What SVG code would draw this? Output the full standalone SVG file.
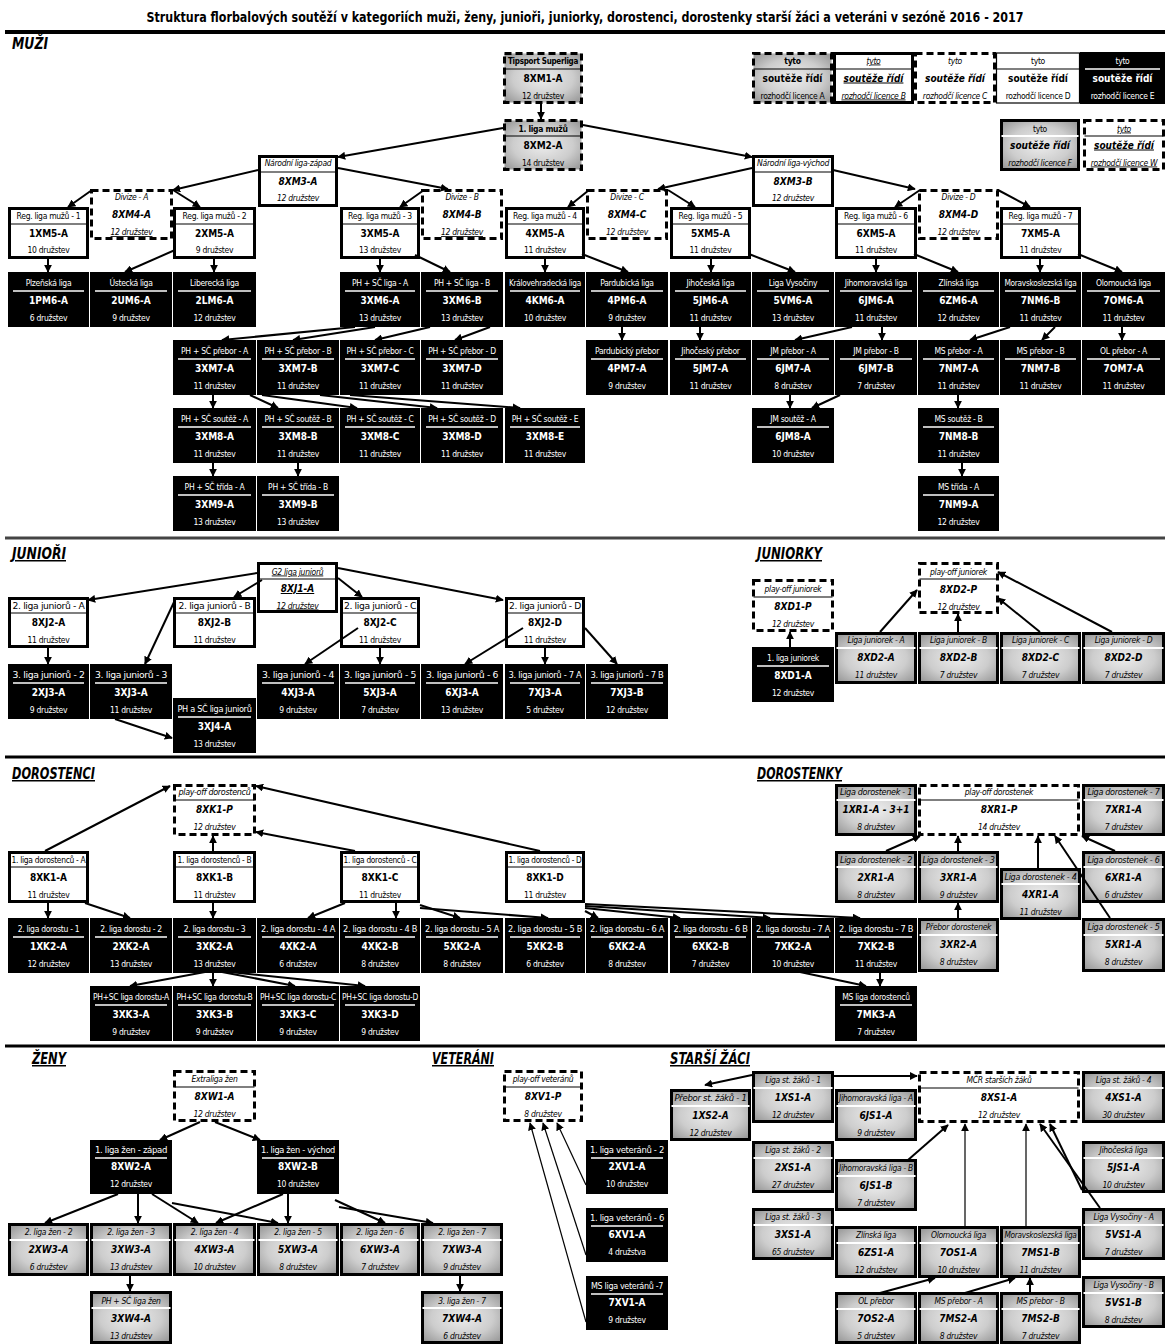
<svg xmlns="http://www.w3.org/2000/svg" width="1170" height="1344" viewBox="0 0 1170 1344">
<defs>
<radialGradient id="gg" cx="50%" cy="50%" r="65%"><stop offset="0" stop-color="#ededed"/><stop offset="0.6" stop-color="#cdcdcd"/><stop offset="1" stop-color="#9c9c9c"/></radialGradient>
<marker id="ah" viewBox="0 0 10 10" refX="9" refY="5" markerWidth="8" markerHeight="8" markerUnits="userSpaceOnUse" orient="auto"><path d="M0,0 L10,5 L0,10 z" fill="#000"/></marker>
<style>
text{font-family:"Liberation Sans Narrow","DejaVu Sans Condensed","Liberation Sans",Arial,sans-serif;text-anchor:middle;font-size:8.5px;letter-spacing:-0.3px;fill:#000}
.c{font-weight:bold;font-size:10px;letter-spacing:0}
.w{fill:#fff}
.i{font-style:italic}
.u{text-decoration:underline}
.E{fill:#000}
.D{fill:#fff;stroke:#000;stroke-width:3}
.Dt{fill:#fff;stroke:#000;stroke-width:1.2}
.C{fill:#fff;stroke:#000;stroke-width:3;stroke-dasharray:7 4}
.A{fill:url(#gg);stroke:#000;stroke-width:3;stroke-dasharray:7 4}
.F{fill:url(#gg);stroke:#000;stroke-width:3}
.sw{stroke:#fff;stroke-width:1.5}
.sb{stroke:#000;stroke-width:1.2}
.sf{stroke:#fff;stroke-width:2}
.k{stroke:#000;stroke-width:2;fill:none;marker-end:url(#ah)}
.kt{stroke:#000;stroke-width:1.2;fill:none;marker-end:url(#ah)}
.sec{font-size:15px;font-weight:bold;font-style:italic;text-anchor:start;letter-spacing:0}
.rule{stroke:#000;stroke-width:3}
</style>
</defs>
<rect width="1170" height="1344" fill="#fff"/>
<text x="585" y="22" style="font-size:14px;font-weight:bold;letter-spacing:0" textLength="877" lengthAdjust="spacingAndGlyphs">Struktura florbalových soutěží v kategoriích muži, ženy, junioři, juniorky, dorostenci, dorostenky starší žáci a veteráni v sezóně 2016 - 2017</text>
<line x1="5" y1="32" x2="1165" y2="32" stroke="#000" stroke-width="4"/>
<line class="rule" x1="5" y1="538" x2="1165" y2="538" style="stroke:#444"/>
<line class="rule" x1="5" y1="757" x2="1165" y2="757"/>
<line class="rule" x1="5" y1="1046" x2="1165" y2="1046"/>
<g id="labels">
<text class="sec" x="12" y="49" textLength="36" lengthAdjust="spacingAndGlyphs">MUŽI</text>
<text class="sec u" x="12" y="559" textLength="54" lengthAdjust="spacingAndGlyphs">JUNIOŘI</text>
<text class="sec u" x="757" y="559" textLength="65" lengthAdjust="spacingAndGlyphs">JUNIORKY</text>
<text class="sec u" x="12" y="779" textLength="83" lengthAdjust="spacingAndGlyphs">DOROSTENCI</text>
<text class="sec u" x="757" y="779" textLength="85" lengthAdjust="spacingAndGlyphs">DOROSTENKY</text>
<text class="sec u" x="32" y="1064" textLength="34" lengthAdjust="spacingAndGlyphs">ŽENY</text>
<text class="sec u" x="432" y="1064" textLength="62" lengthAdjust="spacingAndGlyphs">VETERÁNI</text>
<text class="sec u" x="670" y="1064" textLength="80" lengthAdjust="spacingAndGlyphs">STARŠÍ ŽÁCI</text>
</g>

<!-- LEGEND -->
<g id="legA"><rect class="A" x="753.5" y="53.5" width="78" height="49"/><line class="sb" x1="753.5" x2="831.5" y1="69" y2="69"/><text x="792.5" y="63.5" style="font-weight:bold">tyto</text><text class="c" x="792.5" y="81.5">soutěže řídí</text><text x="792.5" y="98.5">rozhodčí licence A</text></g>
<g id="legB"><rect class="D" x="834.5" y="53.5" width="78" height="49"/><line class="sb" x1="834.5" x2="912.5" y1="69" y2="69"/><text class="i u" x="873.5" y="63.5">tyto</text><text class="c i u" x="873.5" y="81.5">soutěže řídí</text><text class="i u" x="873.5" y="98.5">rozhodčí licence B</text></g>
<g id="legC"><rect class="C" x="915.5" y="53.5" width="79" height="49"/><text class="i" x="955" y="63.5">tyto</text><text class="c i" x="955" y="81.5">soutěže řídí</text><text class="i" x="955" y="98.5">rozhodčí licence C</text></g>
<g id="legD"><rect class="Dt" x="996.5" y="53" width="83" height="50"/><line class="sb" x1="996.5" x2="1079.5" y1="69" y2="69"/><text x="1038" y="63.5">tyto</text><text class="c" x="1038" y="81.5">soutěže řídí</text><text x="1038" y="98.5">rozhodčí licence D</text></g>
<g id="legE"><rect class="E" x="1080" y="52" width="85" height="52"/><line class="sw" x1="1085" x2="1160" y1="69" y2="69"/><text class="w" x="1122.5" y="63.5">tyto</text><text class="c w" x="1122.5" y="81.5">soutěže řídí</text><text class="w" x="1122.5" y="98.5">rozhodčí licence E</text></g>
<g id="legF"><rect class="F" x="1001.5" y="120.5" width="77" height="49"/><line class="sf" x1="1001.5" x2="1078.5" y1="136" y2="136"/><text x="1040" y="131.5">tyto</text><text class="c i" x="1040" y="148.5">soutěže řídí</text><text class="i" x="1040" y="165.5">rozhodčí licence F</text></g>
<g id="legW"><rect class="C" x="1084.5" y="120.5" width="79" height="49"/><line class="sb" x1="1084.5" x2="1163.5" y1="136" y2="136"/><text class="i u" x="1124" y="131.5">tyto</text><text class="c i u" x="1124" y="148.5">soutěže řídí</text><text class="i u" x="1124" y="165.5">rozhodčí licence W</text></g>

<!-- MUZI -->
<g id="n-8XM1-A"><rect class="A" x="504.5" y="53.5" width="77" height="49"/><line class="sb" x1="504.5" x2="581.5" y1="69" y2="69"/><text x="543" y="63.5" style="font-weight:bold" textLength="70" lengthAdjust="spacingAndGlyphs">Tipsport Superliga</text><text class="c" x="543" y="81.5">8XM1-A</text><text x="543" y="98.5">12 družstev</text></g>
<g id="n-8XM2-A"><rect class="A" x="504.5" y="120.5" width="77" height="49"/><line class="sb" x1="504.5" x2="581.5" y1="136" y2="136"/><text x="543" y="131.5" style="font-weight:bold">1. liga mužů</text><text class="c" x="543" y="148.5">8XM2-A</text><text x="543" y="165.5">14 družstev</text></g>
<g id="n-8XM3-A"><rect class="D" x="259.5" y="156.5" width="77" height="49"/><line class="sb" x1="259.5" x2="336.5" y1="172" y2="172"/><text class="i" x="298" y="166">Národní liga-západ</text><text class="c i" x="298" y="184.5">8XM3-A</text><text class="i" x="298" y="201">12 družstev</text></g>
<g id="n-8XM3-B"><rect class="D" x="753.5" y="156.5" width="79" height="49"/><line class="sb" x1="753.5" x2="832.5" y1="172" y2="172"/><text class="i" x="793" y="166" textLength="72" lengthAdjust="spacingAndGlyphs">Národní liga-východ</text><text class="c i" x="793" y="184.5">8XM3-B</text><text class="i" x="793" y="201">12 družstev</text></g>
<g id="n-8XM4-A"><rect class="C" x="91.5" y="190.5" width="80" height="48"/><text class="i" x="131.5" y="200">Divize - A</text><text class="c i" x="131.5" y="218">8XM4-A</text><text class="i u" x="131.5" y="235">12 družstev</text></g>
<g id="n-8XM4-B"><rect class="C" x="422.5" y="190.5" width="79" height="48"/><text class="i" x="462" y="200">Divize - B</text><text class="c i" x="462" y="218">8XM4-B</text><text class="i u" x="462" y="235">12 družstev</text></g>
<g id="n-8XM4-C"><rect class="C" x="587.5" y="190.5" width="79" height="48"/><text class="i" x="627" y="200">Divize - C</text><text class="c i" x="627" y="218">8XM4-C</text><text class="i" x="627" y="235">12 družstev</text></g>
<g id="n-8XM4-D"><rect class="C" x="919.5" y="190.5" width="78" height="48"/><text class="i" x="958.5" y="200">Divize - D</text><text class="c i" x="958.5" y="218">8XM4-D</text><text class="i" x="958.5" y="235">12 družstev</text></g>

<g id="n-1XM5-A"><rect class="D" x="9.5" y="208.5" width="78" height="49"/><line class="sb" x1="9.5" x2="87.5" y1="224" y2="224"/><text x="48.5" y="219">Reg. liga mužů - 1</text><text class="c" x="48.5" y="237">1XM5-A</text><text x="48.5" y="253">10 družstev</text></g>
<g id="n-2XM5-A"><rect class="D" x="174.5" y="208.5" width="80" height="49"/><line class="sb" x1="174.5" x2="254.5" y1="224" y2="224"/><text x="214.5" y="219">Reg. liga mužů - 2</text><text class="c" x="214.5" y="237">2XM5-A</text><text x="214.5" y="253">9 družstev</text></g>
<g id="n-3XM5-A"><rect class="D" x="341.5" y="208.5" width="77" height="49"/><line class="sb" x1="341.5" x2="418.5" y1="224" y2="224"/><text x="380" y="219">Reg. liga mužů - 3</text><text class="c" x="380" y="237">3XM5-A</text><text x="380" y="253">13 družstev</text></g>
<g id="n-4XM5-A"><rect class="D" x="506.5" y="208.5" width="77" height="49"/><line class="sb" x1="506.5" x2="583.5" y1="224" y2="224"/><text x="545" y="219">Reg. liga mužů - 4</text><text class="c" x="545" y="237">4XM5-A</text><text x="545" y="253">11 družstev</text></g>
<g id="n-5XM5-A"><rect class="D" x="671.5" y="208.5" width="78" height="49"/><line class="sb" x1="671.5" x2="749.5" y1="224" y2="224"/><text x="710.5" y="219">Reg. liga mužů - 5</text><text class="c" x="710.5" y="237">5XM5-A</text><text x="710.5" y="253">11 družstev</text></g>
<g id="n-6XM5-A"><rect class="D" x="836.5" y="208.5" width="79" height="49"/><line class="sb" x1="836.5" x2="915.5" y1="224" y2="224"/><text x="876" y="219">Reg. liga mužů - 6</text><text class="c" x="876" y="237">6XM5-A</text><text x="876" y="253">11 družstev</text></g>
<g id="n-7XM5-A"><rect class="D" x="1001.5" y="208.5" width="78" height="49"/><line class="sb" x1="1001.5" x2="1079.5" y1="224" y2="224"/><text x="1040.5" y="219">Reg. liga mužů - 7</text><text class="c" x="1040.5" y="237">7XM5-A</text><text x="1040.5" y="253">11 družstev</text></g>

<g id="n-1PM6-A"><rect class="E" x="8" y="272" width="81" height="55"/><line class="sw" x1="13" x2="84" y1="291" y2="291"/><text class="w" x="48.5" y="286">Plzeňská liga</text><text class="c w" x="48.5" y="304">1PM6-A</text><text class="w" x="48.5" y="321">6 družstev</text></g>
<g id="n-2UM6-A"><rect class="E" x="90" y="272" width="82" height="55"/><line class="sw" x1="95" x2="167" y1="291" y2="291"/><text class="w" x="131" y="286">Ústecká liga</text><text class="c w" x="131" y="304">2UM6-A</text><text class="w" x="131" y="321">9 družstev</text></g>
<g id="n-2LM6-A"><rect class="E" x="173" y="272" width="83" height="55"/><line class="sw" x1="178" x2="251" y1="291" y2="291"/><text class="w" x="214.5" y="286">Liberecká liga</text><text class="c w" x="214.5" y="304">2LM6-A</text><text class="w" x="214.5" y="321">12 družstev</text></g>
<g id="n-3XM6-A"><rect class="E" x="340" y="272" width="80" height="55"/><line class="sw" x1="345" x2="415" y1="291" y2="291"/><text class="w" x="380" y="286">PH + SČ liga - A</text><text class="c w" x="380" y="304">3XM6-A</text><text class="w" x="380" y="321">13 družstev</text></g>
<g id="n-3XM6-B"><rect class="E" x="421" y="272" width="82" height="55"/><line class="sw" x1="426" x2="498" y1="291" y2="291"/><text class="w" x="462" y="286">PH + SČ liga - B</text><text class="c w" x="462" y="304">3XM6-B</text><text class="w" x="462" y="321">13 družstev</text></g>
<g id="n-4KM6-A"><rect class="E" x="505" y="272" width="80" height="55"/><line class="sw" x1="510" x2="580" y1="291" y2="291"/><text class="w" x="545" y="286" textLength="72" lengthAdjust="spacingAndGlyphs">Královehradecká liga</text><text class="c w" x="545" y="304">4KM6-A</text><text class="w" x="545" y="321">10 družstev</text></g>
<g id="n-4PM6-A"><rect class="E" x="586" y="272" width="82" height="55"/><line class="sw" x1="591" x2="663" y1="291" y2="291"/><text class="w" x="627" y="286">Pardubická liga</text><text class="c w" x="627" y="304">4PM6-A</text><text class="w" x="627" y="321">9 družstev</text></g>
<g id="n-5JM6-A"><rect class="E" x="670" y="272" width="81" height="55"/><line class="sw" x1="675" x2="746" y1="291" y2="291"/><text class="w" x="710.5" y="286">Jihočeská liga</text><text class="c w" x="710.5" y="304">5JM6-A</text><text class="w" x="710.5" y="321">11 družstev</text></g>
<g id="n-5VM6-A"><rect class="E" x="752" y="272" width="82" height="55"/><line class="sw" x1="757" x2="829" y1="291" y2="291"/><text class="w" x="793" y="286">Liga Vysočiny</text><text class="c w" x="793" y="304">5VM6-A</text><text class="w" x="793" y="321">13 družstev</text></g>
<g id="n-6JM6-A"><rect class="E" x="835" y="272" width="82" height="55"/><line class="sw" x1="840" x2="912" y1="291" y2="291"/><text class="w" x="876" y="286">Jihomoravská liga</text><text class="c w" x="876" y="304">6JM6-A</text><text class="w" x="876" y="321">11 družstev</text></g>
<g id="n-6ZM6-A"><rect class="E" x="918" y="272" width="81" height="55"/><line class="sw" x1="923" x2="994" y1="291" y2="291"/><text class="w" x="958.5" y="286">Zlínská liga</text><text class="c w" x="958.5" y="304">6ZM6-A</text><text class="w" x="958.5" y="321">12 družstev</text></g>
<g id="n-7NM6-B"><rect class="E" x="1000" y="272" width="81" height="55"/><line class="sw" x1="1005" x2="1076" y1="291" y2="291"/><text class="w" x="1040.5" y="286" textLength="72" lengthAdjust="spacingAndGlyphs">Moravskoslezská liga</text><text class="c w" x="1040.5" y="304">7NM6-B</text><text class="w" x="1040.5" y="321">11 družstev</text></g>
<g id="n-7OM6-A"><rect class="E" x="1082" y="272" width="83" height="55"/><line class="sw" x1="1087" x2="1160" y1="291" y2="291"/><text class="w" x="1123.5" y="286">Olomoucká liga</text><text class="c w" x="1123.5" y="304">7OM6-A</text><text class="w" x="1123.5" y="321">11 družstev</text></g>

<g id="n-3XM7-A"><rect class="E" x="173" y="340" width="83" height="55"/><line class="sw" x1="178" x2="251" y1="359" y2="359"/><text class="w" x="214.5" y="354">PH + SČ přebor - A</text><text class="c w" x="214.5" y="372">3XM7-A</text><text class="w" x="214.5" y="389">11 družstev</text></g>
<g id="n-3XM7-B"><rect class="E" x="257" y="340" width="82" height="55"/><line class="sw" x1="262" x2="334" y1="359" y2="359"/><text class="w" x="298" y="354">PH + SČ přebor - B</text><text class="c w" x="298" y="372">3XM7-B</text><text class="w" x="298" y="389">11 družstev</text></g>
<g id="n-3XM7-C"><rect class="E" x="340" y="340" width="80" height="55"/><line class="sw" x1="345" x2="415" y1="359" y2="359"/><text class="w" x="380" y="354">PH + SČ přebor - C</text><text class="c w" x="380" y="372">3XM7-C</text><text class="w" x="380" y="389">11 družstev</text></g>
<g id="n-3XM7-D"><rect class="E" x="421" y="340" width="82" height="55"/><line class="sw" x1="426" x2="498" y1="359" y2="359"/><text class="w" x="462" y="354">PH + SČ přebor - D</text><text class="c w" x="462" y="372">3XM7-D</text><text class="w" x="462" y="389">11 družstev</text></g>
<g id="n-4PM7-A"><rect class="E" x="586" y="340" width="82" height="55"/><line class="sw" x1="591" x2="663" y1="359" y2="359"/><text class="w" x="627" y="354">Pardubický přebor</text><text class="c w" x="627" y="372">4PM7-A</text><text class="w" x="627" y="389">9 družstev</text></g>
<g id="n-5JM7-A"><rect class="E" x="670" y="340" width="81" height="55"/><line class="sw" x1="675" x2="746" y1="359" y2="359"/><text class="w" x="710.5" y="354">Jihočeský přebor</text><text class="c w" x="710.5" y="372">5JM7-A</text><text class="w" x="710.5" y="389">11 družstev</text></g>
<g id="n-6JM7-A"><rect class="E" x="752" y="340" width="82" height="55"/><line class="sw" x1="757" x2="829" y1="359" y2="359"/><text class="w" x="793" y="354">JM přebor - A</text><text class="c w" x="793" y="372">6JM7-A</text><text class="w" x="793" y="389">8 družstev</text></g>
<g id="n-6JM7-B"><rect class="E" x="835" y="340" width="82" height="55"/><line class="sw" x1="840" x2="912" y1="359" y2="359"/><text class="w" x="876" y="354">JM přebor - B</text><text class="c w" x="876" y="372">6JM7-B</text><text class="w" x="876" y="389">7 družstev</text></g>
<g id="n-7NM7-A"><rect class="E" x="918" y="340" width="81" height="55"/><line class="sw" x1="923" x2="994" y1="359" y2="359"/><text class="w" x="958.5" y="354">MS přebor - A</text><text class="c w" x="958.5" y="372">7NM7-A</text><text class="w" x="958.5" y="389">11 družstev</text></g>
<g id="n-7NM7-B"><rect class="E" x="1000" y="340" width="81" height="55"/><line class="sw" x1="1005" x2="1076" y1="359" y2="359"/><text class="w" x="1040.5" y="354">MS přebor - B</text><text class="c w" x="1040.5" y="372">7NM7-B</text><text class="w" x="1040.5" y="389">11 družstev</text></g>
<g id="n-7OM7-A"><rect class="E" x="1082" y="340" width="83" height="55"/><line class="sw" x1="1087" x2="1160" y1="359" y2="359"/><text class="w" x="1123.5" y="354">OL přebor - A</text><text class="c w" x="1123.5" y="372">7OM7-A</text><text class="w" x="1123.5" y="389">11 družstev</text></g>

<g id="n-3XM8-A"><rect class="E" x="173" y="408" width="83" height="55"/><line class="sw" x1="178" x2="251" y1="427" y2="427"/><text class="w" x="214.5" y="422">PH + SČ soutěž - A</text><text class="c w" x="214.5" y="440">3XM8-A</text><text class="w" x="214.5" y="457">11 družstev</text></g>
<g id="n-3XM8-B"><rect class="E" x="257" y="408" width="82" height="55"/><line class="sw" x1="262" x2="334" y1="427" y2="427"/><text class="w" x="298" y="422">PH + SČ soutěž - B</text><text class="c w" x="298" y="440">3XM8-B</text><text class="w" x="298" y="457">11 družstev</text></g>
<g id="n-3XM8-C"><rect class="E" x="340" y="408" width="80" height="55"/><line class="sw" x1="345" x2="415" y1="427" y2="427"/><text class="w" x="380" y="422">PH + SČ soutěž - C</text><text class="c w" x="380" y="440">3XM8-C</text><text class="w" x="380" y="457">11 družstev</text></g>
<g id="n-3XM8-D"><rect class="E" x="421" y="408" width="82" height="55"/><line class="sw" x1="426" x2="498" y1="427" y2="427"/><text class="w" x="462" y="422">PH + SČ soutěž - D</text><text class="c w" x="462" y="440">3XM8-D</text><text class="w" x="462" y="457">11 družstev</text></g>
<g id="n-3XM8-E"><rect class="E" x="505" y="408" width="80" height="55"/><line class="sw" x1="510" x2="580" y1="427" y2="427"/><text class="w" x="545" y="422">PH + SČ soutěž - E</text><text class="c w" x="545" y="440">3XM8-E</text><text class="w" x="545" y="457">11 družstev</text></g>
<g id="n-6JM8-A"><rect class="E" x="752" y="408" width="82" height="55"/><line class="sw" x1="757" x2="829" y1="427" y2="427"/><text class="w" x="793" y="422">JM soutěž - A</text><text class="c w" x="793" y="440">6JM8-A</text><text class="w" x="793" y="457">10 družstev</text></g>
<g id="n-7NM8-B"><rect class="E" x="918" y="408" width="81" height="55"/><line class="sw" x1="923" x2="994" y1="427" y2="427"/><text class="w" x="958.5" y="422">MS soutěž - B</text><text class="c w" x="958.5" y="440">7NM8-B</text><text class="w" x="958.5" y="457">11 družstev</text></g>

<g id="n-3XM9-A"><rect class="E" x="173" y="476" width="83" height="55"/><line class="sw" x1="178" x2="251" y1="495" y2="495"/><text class="w" x="214.5" y="490">PH + SČ třída - A</text><text class="c w" x="214.5" y="508">3XM9-A</text><text class="w" x="214.5" y="525">13 družstev</text></g>
<g id="n-3XM9-B"><rect class="E" x="257" y="476" width="82" height="55"/><line class="sw" x1="262" x2="334" y1="495" y2="495"/><text class="w" x="298" y="490">PH + SČ třída - B</text><text class="c w" x="298" y="508">3XM9-B</text><text class="w" x="298" y="525">13 družstev</text></g>
<g id="n-7NM9-A"><rect class="E" x="918" y="476" width="81" height="55"/><line class="sw" x1="923" x2="994" y1="495" y2="495"/><text class="w" x="958.5" y="490">MS třída - A</text><text class="c w" x="958.5" y="508">7NM9-A</text><text class="w" x="958.5" y="525">12 družstev</text></g>

<!-- JUNIORI -->
<g id="n-8XJ1-A"><rect class="D" x="258.5" y="563.5" width="78" height="48"/><line class="sb" x1="258.5" x2="336.5" y1="579" y2="579"/><text class="i u" x="297.5" y="574.5">G2 liga juniorů</text><text class="c i u" x="297.5" y="592">8XJ1-A</text><text class="i u" x="297.5" y="608.5">12 družstev</text></g>
<g id="n-8XJ2-A"><rect class="D" x="9.5" y="598.5" width="78" height="48"/><line class="sb" x1="9.5" x2="87.5" y1="613" y2="613"/><text x="48.5" y="609" textLength="72" lengthAdjust="spacingAndGlyphs">2. liga juniorů - A</text><text class="c" x="48.5" y="626">8XJ2-A</text><text x="48.5" y="643">11 družstev</text></g>
<g id="n-8XJ2-B"><rect class="D" x="174.5" y="598.5" width="80" height="48"/><line class="sb" x1="174.5" x2="254.5" y1="613" y2="613"/><text x="214.5" y="609" textLength="72" lengthAdjust="spacingAndGlyphs">2. liga juniorů - B</text><text class="c" x="214.5" y="626">8XJ2-B</text><text x="214.5" y="643">11 družstev</text></g>
<g id="n-8XJ2-C"><rect class="D" x="341.5" y="598.5" width="77" height="48"/><line class="sb" x1="341.5" x2="418.5" y1="613" y2="613"/><text x="380" y="609" textLength="72" lengthAdjust="spacingAndGlyphs">2. liga juniorů - C</text><text class="c" x="380" y="626">8XJ2-C</text><text x="380" y="643">11 družstev</text></g>
<g id="n-8XJ2-D"><rect class="D" x="506.5" y="598.5" width="77" height="48"/><line class="sb" x1="506.5" x2="583.5" y1="613" y2="613"/><text x="545" y="609" textLength="72" lengthAdjust="spacingAndGlyphs">2. liga juniorů - D</text><text class="c" x="545" y="626">8XJ2-D</text><text x="545" y="643">11 družstev</text></g>
<g id="n-2XJ3-A"><rect class="E" x="8" y="664" width="81" height="55"/><line class="sw" x1="13" x2="84" y1="683" y2="683"/><text class="w" x="48.5" y="678" textLength="72" lengthAdjust="spacingAndGlyphs">3. liga juniorů - 2</text><text class="c w" x="48.5" y="696">2XJ3-A</text><text class="w" x="48.5" y="713">9 družstev</text></g>
<g id="n-3XJ3-A"><rect class="E" x="90" y="664" width="82" height="55"/><line class="sw" x1="95" x2="167" y1="683" y2="683"/><text class="w" x="131" y="678" textLength="72" lengthAdjust="spacingAndGlyphs">3. liga juniorů - 3</text><text class="c w" x="131" y="696">3XJ3-A</text><text class="w" x="131" y="713">11 družstev</text></g>
<g id="n-4XJ3-A"><rect class="E" x="257" y="664" width="82" height="55"/><line class="sw" x1="262" x2="334" y1="683" y2="683"/><text class="w" x="298" y="678" textLength="72" lengthAdjust="spacingAndGlyphs">3. liga juniorů - 4</text><text class="c w" x="298" y="696">4XJ3-A</text><text class="w" x="298" y="713">9 družstev</text></g>
<g id="n-5XJ3-A"><rect class="E" x="340" y="664" width="80" height="55"/><line class="sw" x1="345" x2="415" y1="683" y2="683"/><text class="w" x="380" y="678" textLength="72" lengthAdjust="spacingAndGlyphs">3. liga juniorů - 5</text><text class="c w" x="380" y="696">5XJ3-A</text><text class="w" x="380" y="713">7 družstev</text></g>
<g id="n-6XJ3-A"><rect class="E" x="421" y="664" width="82" height="55"/><line class="sw" x1="426" x2="498" y1="683" y2="683"/><text class="w" x="462" y="678" textLength="72" lengthAdjust="spacingAndGlyphs">3. liga juniorů - 6</text><text class="c w" x="462" y="696">6XJ3-A</text><text class="w" x="462" y="713">13 družstev</text></g>
<g id="n-7XJ3-A"><rect class="E" x="505" y="664" width="80" height="55"/><line class="sw" x1="510" x2="580" y1="683" y2="683"/><text class="w" x="545" y="678" textLength="73" lengthAdjust="spacingAndGlyphs">3. liga juniorů - 7 A</text><text class="c w" x="545" y="696">7XJ3-A</text><text class="w" x="545" y="713">5 družstev</text></g>
<g id="n-7XJ3-B"><rect class="E" x="586" y="664" width="82" height="55"/><line class="sw" x1="591" x2="663" y1="683" y2="683"/><text class="w" x="627" y="678" textLength="73" lengthAdjust="spacingAndGlyphs">3. liga juniorů - 7 B</text><text class="c w" x="627" y="696">7XJ3-B</text><text class="w" x="627" y="713">12 družstev</text></g>
<g id="n-3XJ4-A"><rect class="E" x="173" y="698" width="83" height="55"/><line class="sw" x1="178" x2="251" y1="717" y2="717"/><text class="w" x="214.5" y="712" textLength="74" lengthAdjust="spacingAndGlyphs">PH a SČ liga juniorů</text><text class="c w" x="214.5" y="730">3XJ4-A</text><text class="w" x="214.5" y="747">13 družstev</text></g>

<!-- JUNIORKY -->
<g id="n-8XD1-P"><rect class="C" x="753.5" y="580.5" width="79" height="50"/><line class="sb" x1="753.5" x2="832.5" y1="597" y2="597"/><text class="i" x="793" y="592">play-off juniorek</text><text class="c i" x="793" y="610">8XD1-P</text><text class="i" x="793" y="627">12 družstev</text></g>
<g id="n-8XD1-A"><rect class="E" x="752" y="647" width="82" height="55"/><line class="sw" x1="757" x2="829" y1="666" y2="666"/><text class="w" x="793" y="661">1. liga juniorek</text><text class="c w" x="793" y="679">8XD1-A</text><text class="w" x="793" y="696">12 družstev</text></g>
<g id="n-8XD2-P"><rect class="C" x="919.5" y="563.5" width="78" height="49"/><line class="sb" x1="919.5" x2="997.5" y1="579" y2="579"/><text class="i" x="958.5" y="575">play-off juniorek</text><text class="c i" x="958.5" y="593">8XD2-P</text><text class="i" x="958.5" y="610">12 družstev</text></g>
<g id="n-8XD2-A"><rect class="F" x="836.5" y="633.5" width="79" height="49"/><line class="sf" x1="836.5" x2="915.5" y1="648" y2="648"/><text class="i" x="876" y="643">Liga juniorek - A</text><text class="c i" x="876" y="661">8XD2-A</text><text class="i" x="876" y="678">11 družstev</text></g>
<g id="n-8XD2-B"><rect class="F" x="919.5" y="633.5" width="78" height="49"/><line class="sf" x1="919.5" x2="997.5" y1="648" y2="648"/><text class="i" x="958.5" y="643">Liga juniorek - B</text><text class="c i" x="958.5" y="661">8XD2-B</text><text class="i" x="958.5" y="678">7 družstev</text></g>
<g id="n-8XD2-C"><rect class="F" x="1001.5" y="633.5" width="78" height="49"/><line class="sf" x1="1001.5" x2="1079.5" y1="648" y2="648"/><text class="i" x="1040.5" y="643">Liga juniorek - C</text><text class="c i" x="1040.5" y="661">8XD2-C</text><text class="i" x="1040.5" y="678">7 družstev</text></g>
<g id="n-8XD2-D"><rect class="F" x="1083.5" y="633.5" width="80" height="49"/><line class="sf" x1="1083.5" x2="1163.5" y1="648" y2="648"/><text class="i" x="1123.5" y="643">Liga juniorek - D</text><text class="c i" x="1123.5" y="661">8XD2-D</text><text class="i" x="1123.5" y="678">7 družstev</text></g>

<!-- DOROSTENCI -->
<g id="n-8XK1-P"><rect class="C" x="174.5" y="785.5" width="80" height="49"/><line class="sb" x1="174.5" x2="254.5" y1="800" y2="800"/><text class="i" x="214.5" y="795" textLength="72" lengthAdjust="spacingAndGlyphs">play-off dorostenců</text><text class="c i" x="214.5" y="813">8XK1-P</text><text class="i" x="214.5" y="830">12 družstev</text></g>
<g id="n-8XK1-A"><rect class="D" x="9.5" y="852.5" width="78" height="49"/><line class="sb" x1="9.5" x2="87.5" y1="867" y2="867"/><text x="48.5" y="863" textLength="74" lengthAdjust="spacingAndGlyphs">1. liga dorostenců - A</text><text class="c" x="48.5" y="881">8XK1-A</text><text x="48.5" y="898">11 družstev</text></g>
<g id="n-8XK1-B"><rect class="D" x="174.5" y="852.5" width="80" height="49"/><line class="sb" x1="174.5" x2="254.5" y1="867" y2="867"/><text x="214.5" y="863" textLength="74" lengthAdjust="spacingAndGlyphs">1. liga dorostenců - B</text><text class="c" x="214.5" y="881">8XK1-B</text><text x="214.5" y="898">11 družstev</text></g>
<g id="n-8XK1-C"><rect class="D" x="341.5" y="852.5" width="77" height="49"/><line class="sb" x1="341.5" x2="418.5" y1="867" y2="867"/><text x="380" y="863" textLength="73" lengthAdjust="spacingAndGlyphs">1. liga dorostenců - C</text><text class="c" x="380" y="881">8XK1-C</text><text x="380" y="898">11 družstev</text></g>
<g id="n-8XK1-D"><rect class="D" x="506.5" y="852.5" width="77" height="49"/><line class="sb" x1="506.5" x2="583.5" y1="867" y2="867"/><text x="545" y="863" textLength="73" lengthAdjust="spacingAndGlyphs">1. liga dorostenců - D</text><text class="c" x="545" y="881">8XK1-D</text><text x="545" y="898">11 družstev</text></g>

<g id="n-1XK2-A"><rect class="E" x="8" y="918" width="81" height="55"/><line class="sw" x1="13" x2="84" y1="937" y2="937"/><text class="w" x="48.5" y="932">2. liga dorostu - 1</text><text class="c w" x="48.5" y="950">1XK2-A</text><text class="w" x="48.5" y="967">12 družstev</text></g>
<g id="n-2XK2-A"><rect class="E" x="90" y="918" width="82" height="55"/><line class="sw" x1="95" x2="167" y1="937" y2="937"/><text class="w" x="131" y="932">2. liga dorostu - 2</text><text class="c w" x="131" y="950">2XK2-A</text><text class="w" x="131" y="967">13 družstev</text></g>
<g id="n-3XK2-A"><rect class="E" x="173" y="918" width="83" height="55"/><line class="sw" x1="178" x2="251" y1="937" y2="937"/><text class="w" x="214.5" y="932">2. liga dorostu - 3</text><text class="c w" x="214.5" y="950">3XK2-A</text><text class="w" x="214.5" y="967">13 družstev</text></g>
<g id="n-4XK2-A"><rect class="E" x="257" y="918" width="82" height="55"/><line class="sw" x1="262" x2="334" y1="937" y2="937"/><text class="w" x="298" y="932" textLength="74" lengthAdjust="spacingAndGlyphs">2. liga dorostu - 4 A</text><text class="c w" x="298" y="950">4XK2-A</text><text class="w" x="298" y="967">6 družstev</text></g>
<g id="n-4XK2-B"><rect class="E" x="340" y="918" width="80" height="55"/><line class="sw" x1="345" x2="415" y1="937" y2="937"/><text class="w" x="380" y="932" textLength="74" lengthAdjust="spacingAndGlyphs">2. liga dorostu - 4 B</text><text class="c w" x="380" y="950">4XK2-B</text><text class="w" x="380" y="967">8 družstev</text></g>
<g id="n-5XK2-A"><rect class="E" x="421" y="918" width="82" height="55"/><line class="sw" x1="426" x2="498" y1="937" y2="937"/><text class="w" x="462" y="932" textLength="74" lengthAdjust="spacingAndGlyphs">2. liga dorostu - 5 A</text><text class="c w" x="462" y="950">5XK2-A</text><text class="w" x="462" y="967">8 družstev</text></g>
<g id="n-5XK2-B"><rect class="E" x="505" y="918" width="80" height="55"/><line class="sw" x1="510" x2="580" y1="937" y2="937"/><text class="w" x="545" y="932" textLength="74" lengthAdjust="spacingAndGlyphs">2. liga dorostu - 5 B</text><text class="c w" x="545" y="950">5XK2-B</text><text class="w" x="545" y="967">6 družstev</text></g>
<g id="n-6XK2-A"><rect class="E" x="586" y="918" width="82" height="55"/><line class="sw" x1="591" x2="663" y1="937" y2="937"/><text class="w" x="627" y="932" textLength="74" lengthAdjust="spacingAndGlyphs">2. liga dorostu - 6 A</text><text class="c w" x="627" y="950">6XK2-A</text><text class="w" x="627" y="967">8 družstev</text></g>
<g id="n-6XK2-B"><rect class="E" x="670" y="918" width="81" height="55"/><line class="sw" x1="675" x2="746" y1="937" y2="937"/><text class="w" x="710.5" y="932" textLength="74" lengthAdjust="spacingAndGlyphs">2. liga dorostu - 6 B</text><text class="c w" x="710.5" y="950">6XK2-B</text><text class="w" x="710.5" y="967">7 družstev</text></g>
<g id="n-7XK2-A"><rect class="E" x="752" y="918" width="82" height="55"/><line class="sw" x1="757" x2="829" y1="937" y2="937"/><text class="w" x="793" y="932" textLength="74" lengthAdjust="spacingAndGlyphs">2. liga dorostu - 7 A</text><text class="c w" x="793" y="950">7XK2-A</text><text class="w" x="793" y="967">10 družstev</text></g>
<g id="n-7XK2-B"><rect class="E" x="835" y="918" width="82" height="55"/><line class="sw" x1="840" x2="912" y1="937" y2="937"/><text class="w" x="876" y="932" textLength="74" lengthAdjust="spacingAndGlyphs">2. liga dorostu - 7 B</text><text class="c w" x="876" y="950">7XK2-B</text><text class="w" x="876" y="967">11 družstev</text></g>
<g id="n-3XK3-A"><rect class="E" x="90" y="986" width="82" height="55"/><line class="sw" x1="95" x2="167" y1="1005" y2="1005"/><text class="w" x="131" y="1000" textLength="76" lengthAdjust="spacingAndGlyphs">PH+SC liga dorostu-A</text><text class="c w" x="131" y="1018">3XK3-A</text><text class="w" x="131" y="1035">9 družstev</text></g>
<g id="n-3XK3-B"><rect class="E" x="173" y="986" width="83" height="55"/><line class="sw" x1="178" x2="251" y1="1005" y2="1005"/><text class="w" x="214.5" y="1000" textLength="76" lengthAdjust="spacingAndGlyphs">PH+SC liga dorostu-B</text><text class="c w" x="214.5" y="1018">3XK3-B</text><text class="w" x="214.5" y="1035">9 družstev</text></g>
<g id="n-3XK3-C"><rect class="E" x="257" y="986" width="82" height="55"/><line class="sw" x1="262" x2="334" y1="1005" y2="1005"/><text class="w" x="298" y="1000" textLength="76" lengthAdjust="spacingAndGlyphs">PH+SC liga dorostu-C</text><text class="c w" x="298" y="1018">3XK3-C</text><text class="w" x="298" y="1035">9 družstev</text></g>
<g id="n-3XK3-D"><rect class="E" x="340" y="986" width="80" height="55"/><line class="sw" x1="345" x2="415" y1="1005" y2="1005"/><text class="w" x="380" y="1000" textLength="76" lengthAdjust="spacingAndGlyphs">PH+SC liga dorostu-D</text><text class="c w" x="380" y="1018">3XK3-D</text><text class="w" x="380" y="1035">9 družstev</text></g>
<g id="n-7MK3-A"><rect class="E" x="835" y="986" width="82" height="55"/><line class="sw" x1="840" x2="912" y1="1005" y2="1005"/><text class="w" x="876" y="1000">MS liga dorostenců</text><text class="c w" x="876" y="1018">7MK3-A</text><text class="w" x="876" y="1035">7 družstev</text></g>

<!-- DOROSTENKY -->
<g id="n-1XR1-A"><rect class="F" x="836.5" y="785.5" width="79" height="49"/><line class="sf" x1="836.5" x2="915.5" y1="800" y2="800"/><text class="i" x="876" y="795" textLength="72" lengthAdjust="spacingAndGlyphs">Liga dorostenek - 1</text><text class="c i" x="876" y="813">1XR1-A - 3+1</text><text class="i" x="876" y="830">8 družstev</text></g>
<g id="n-8XR1-P"><rect class="C" x="919.5" y="785.5" width="159" height="49"/><line class="sb" x1="919.5" x2="1078.5" y1="800" y2="800"/><text class="i" x="999" y="795">play-off dorostenek</text><text class="c i" x="999" y="813">8XR1-P</text><text class="i" x="999" y="830">14 družstev</text></g>
<g id="n-7XR1-A"><rect class="F" x="1083.5" y="785.5" width="80" height="49"/><line class="sf" x1="1083.5" x2="1163.5" y1="800" y2="800"/><text class="i" x="1123.5" y="795" textLength="72" lengthAdjust="spacingAndGlyphs">Liga dorostenek - 7</text><text class="c i" x="1123.5" y="813">7XR1-A</text><text class="i" x="1123.5" y="830">7 družstev</text></g>
<g id="n-2XR1-A"><rect class="F" x="836.5" y="852.5" width="79" height="49"/><line class="sf" x1="836.5" x2="915.5" y1="867" y2="867"/><text class="i" x="876" y="863" textLength="72" lengthAdjust="spacingAndGlyphs">Liga dorostenek - 2</text><text class="c i" x="876" y="881">2XR1-A</text><text class="i" x="876" y="898">8 družstev</text></g>
<g id="n-3XR1-A"><rect class="F" x="919.5" y="852.5" width="78" height="49"/><line class="sf" x1="919.5" x2="997.5" y1="867" y2="867"/><text class="i" x="958.5" y="863" textLength="72" lengthAdjust="spacingAndGlyphs">Liga dorostenek - 3</text><text class="c i" x="958.5" y="881">3XR1-A</text><text class="i" x="958.5" y="898">9 družstev</text></g>
<g id="n-4XR1-A"><rect class="F" x="1001.5" y="869.5" width="78" height="49"/><line class="sf" x1="1001.5" x2="1079.5" y1="884" y2="884"/><text class="i" x="1040.5" y="880" textLength="72" lengthAdjust="spacingAndGlyphs">Liga dorostenek - 4</text><text class="c i" x="1040.5" y="898">4XR1-A</text><text class="i" x="1040.5" y="915">11 družstev</text></g>
<g id="n-6XR1-A"><rect class="F" x="1083.5" y="852.5" width="80" height="49"/><line class="sf" x1="1083.5" x2="1163.5" y1="867" y2="867"/><text class="i" x="1123.5" y="863" textLength="72" lengthAdjust="spacingAndGlyphs">Liga dorostenek - 6</text><text class="c i" x="1123.5" y="881">6XR1-A</text><text class="i" x="1123.5" y="898">6 družstev</text></g>
<g id="n-3XR2-A"><rect class="F" x="919.5" y="919.5" width="78" height="51"/><line class="sf" x1="919.5" x2="997.5" y1="935" y2="935"/><text class="i" x="958.5" y="930">Přebor dorostenek</text><text class="c i" x="958.5" y="948">3XR2-A</text><text class="i" x="958.5" y="965">8 družstev</text></g>
<g id="n-5XR1-A"><rect class="F" x="1083.5" y="919.5" width="80" height="51"/><line class="sf" x1="1083.5" x2="1163.5" y1="935" y2="935"/><text class="i" x="1123.5" y="930" textLength="72" lengthAdjust="spacingAndGlyphs">Liga dorostenek - 5</text><text class="c i" x="1123.5" y="948">5XR1-A</text><text class="i" x="1123.5" y="965">8 družstev</text></g>

<!-- ZENY -->
<g id="n-8XW1-A"><rect class="C" x="174.5" y="1071.5" width="80" height="49"/><line class="sb" x1="174.5" x2="254.5" y1="1087" y2="1087"/><text class="i" x="214.5" y="1082">Extraliga žen</text><text class="c i" x="214.5" y="1100">8XW1-A</text><text class="i" x="214.5" y="1117">12 družstev</text></g>
<g id="n-8XW2-A"><rect class="E" x="90" y="1140" width="82" height="54"/><line class="sw" x1="95" x2="167" y1="1158" y2="1158"/><text class="w" x="131" y="1153" textLength="72" lengthAdjust="spacingAndGlyphs">1. liga žen - západ</text><text class="c w" x="131" y="1170">8XW2-A</text><text class="w" x="131" y="1187">12 družstev</text></g>
<g id="n-8XW2-B"><rect class="E" x="257" y="1140" width="82" height="54"/><line class="sw" x1="262" x2="334" y1="1158" y2="1158"/><text class="w" x="298" y="1153" textLength="74" lengthAdjust="spacingAndGlyphs">1. liga žen - východ</text><text class="c w" x="298" y="1170">8XW2-B</text><text class="w" x="298" y="1187">10 družstev</text></g>
<g id="n-2XW3-A"><rect class="F" x="9.5" y="1224.5" width="78" height="50"/><line class="sf" x1="9.5" x2="87.5" y1="1240" y2="1240"/><text class="i" x="48.5" y="1235">2. liga žen - 2</text><text class="c i" x="48.5" y="1253">2XW3-A</text><text class="i" x="48.5" y="1270">6 družstev</text></g>
<g id="n-3XW3-A"><rect class="F" x="91.5" y="1224.5" width="79" height="50"/><line class="sf" x1="91.5" x2="170.5" y1="1240" y2="1240"/><text class="i" x="131" y="1235">2. liga žen - 3</text><text class="c i" x="131" y="1253">3XW3-A</text><text class="i" x="131" y="1270">13 družstev</text></g>
<g id="n-4XW3-A"><rect class="F" x="174.5" y="1224.5" width="80" height="50"/><line class="sf" x1="174.5" x2="254.5" y1="1240" y2="1240"/><text class="i" x="214.5" y="1235">2. liga žen - 4</text><text class="c i" x="214.5" y="1253">4XW3-A</text><text class="i" x="214.5" y="1270">10 družstev</text></g>
<g id="n-5XW3-A"><rect class="F" x="258.5" y="1224.5" width="79" height="50"/><line class="sf" x1="258.5" x2="337.5" y1="1240" y2="1240"/><text class="i" x="298" y="1235">2. liga žen - 5</text><text class="c i" x="298" y="1253">5XW3-A</text><text class="i" x="298" y="1270">8 družstev</text></g>
<g id="n-6XW3-A"><rect class="F" x="341.5" y="1224.5" width="77" height="50"/><line class="sf" x1="341.5" x2="418.5" y1="1240" y2="1240"/><text class="i" x="380" y="1235">2. liga žen - 6</text><text class="c i" x="380" y="1253">6XW3-A</text><text class="i" x="380" y="1270">7 družstev</text></g>
<g id="n-7XW3-A"><rect class="F" x="422.5" y="1224.5" width="79" height="50"/><line class="sf" x1="422.5" x2="501.5" y1="1240" y2="1240"/><text class="i" x="462" y="1235">2. liga žen - 7</text><text class="c i" x="462" y="1253">7XW3-A</text><text class="i" x="462" y="1270">9 družstev</text></g>
<g id="n-3XW4-A"><rect class="F" x="91.5" y="1292.5" width="79" height="50"/><line class="sf" x1="91.5" x2="170.5" y1="1308" y2="1308"/><text class="i" x="131" y="1304">PH + SČ liga žen</text><text class="c i" x="131" y="1322">3XW4-A</text><text class="i" x="131" y="1339">13 družstev</text></g>
<g id="n-7XW4-A"><rect class="F" x="422.5" y="1292.5" width="79" height="50"/><line class="sf" x1="422.5" x2="501.5" y1="1308" y2="1308"/><text class="i" x="462" y="1304">3. liga žen - 7</text><text class="c i" x="462" y="1322">7XW4-A</text><text class="i" x="462" y="1339">6 družstev</text></g>

<!-- VETERANI -->
<g id="n-8XV1-P"><rect class="C" x="504.5" y="1071.5" width="77" height="49"/><line class="sb" x1="504.5" x2="581.5" y1="1087" y2="1087"/><text class="i" x="543" y="1082">play-off veteránů</text><text class="c i" x="543" y="1100">8XV1-P</text><text class="i" x="543" y="1117">8 družstev</text></g>
<g id="n-2XV1-A"><rect class="E" x="586" y="1140" width="82" height="54"/><line class="sw" x1="591" x2="663" y1="1158" y2="1158"/><text class="w" x="627" y="1153" textLength="74" lengthAdjust="spacingAndGlyphs">1. liga veteránů - 2</text><text class="c w" x="627" y="1170">2XV1-A</text><text class="w" x="627" y="1187">10 družstev</text></g>
<g id="n-6XV1-A"><rect class="E" x="586" y="1208" width="82" height="54"/><line class="sw" x1="591" x2="663" y1="1226" y2="1226"/><text class="w" x="627" y="1221" textLength="74" lengthAdjust="spacingAndGlyphs">1. liga veteránů - 6</text><text class="c w" x="627" y="1238">6XV1-A</text><text class="w" x="627" y="1255">4 družstva</text></g>
<g id="n-7XV1-A"><rect class="E" x="586" y="1276" width="82" height="54"/><line class="sw" x1="591" x2="663" y1="1294" y2="1294"/><text class="w" x="627" y="1289" textLength="72" lengthAdjust="spacingAndGlyphs">MS liga veteránů -7</text><text class="c w" x="627" y="1306">7XV1-A</text><text class="w" x="627" y="1323">9 družstev</text></g>

<!-- STARSI ZACI -->
<g id="n-1XS2-A"><rect class="F" x="671.5" y="1090.5" width="78" height="49"/><line class="sf" x1="671.5" x2="749.5" y1="1106" y2="1106"/><text class="i" x="710.5" y="1101" textLength="72" lengthAdjust="spacingAndGlyphs">Přebor st. žáků - 1</text><text class="c i" x="710.5" y="1119">1XS2-A</text><text class="i" x="710.5" y="1136">12 družstev</text></g>
<g id="n-1XS1-A"><rect class="F" x="753.5" y="1072.5" width="79" height="49"/><line class="sf" x1="753.5" x2="832.5" y1="1088" y2="1088"/><text class="i" x="793" y="1083">Liga st. žáků - 1</text><text class="c i" x="793" y="1101">1XS1-A</text><text class="i" x="793" y="1118">12 družstev</text></g>
<g id="n-6JS1-A"><rect class="F" x="836.5" y="1090.5" width="79" height="49"/><line class="sf" x1="836.5" x2="915.5" y1="1106" y2="1106"/><text class="i" x="876" y="1101" textLength="74" lengthAdjust="spacingAndGlyphs">Jihomoravská liga - A</text><text class="c i" x="876" y="1119">6JS1-A</text><text class="i" x="876" y="1136">9 družstev</text></g>
<g id="n-8XS1-A"><rect class="C" x="919.5" y="1072.5" width="159" height="49"/><line class="sb" x1="919.5" x2="1078.5" y1="1088" y2="1088"/><text class="i" x="999" y="1083">MČR starších žáků</text><text class="c i" x="999" y="1101">8XS1-A</text><text class="i" x="999" y="1118">12 družstev</text></g>
<g id="n-4XS1-A"><rect class="F" x="1083.5" y="1072.5" width="80" height="49"/><line class="sf" x1="1083.5" x2="1163.5" y1="1088" y2="1088"/><text class="i" x="1123.5" y="1083">Liga st. žáků - 4</text><text class="c i" x="1123.5" y="1101">4XS1-A</text><text class="i" x="1123.5" y="1118">30 družstev</text></g>
<g id="n-2XS1-A"><rect class="F" x="753.5" y="1142.5" width="79" height="49"/><line class="sf" x1="753.5" x2="832.5" y1="1158" y2="1158"/><text class="i" x="793" y="1153">Liga st. žáků - 2</text><text class="c i" x="793" y="1171">2XS1-A</text><text class="i" x="793" y="1188">27 družstev</text></g>
<g id="n-6JS1-B"><rect class="F" x="836.5" y="1160.5" width="79" height="49"/><line class="sf" x1="836.5" x2="915.5" y1="1176" y2="1176"/><text class="i" x="876" y="1171" textLength="74" lengthAdjust="spacingAndGlyphs">Jihomoravská liga - B</text><text class="c i" x="876" y="1189">6JS1-B</text><text class="i" x="876" y="1206">7 družstev</text></g>
<g id="n-5JS1-A"><rect class="F" x="1083.5" y="1142.5" width="80" height="49"/><line class="sf" x1="1083.5" x2="1163.5" y1="1158" y2="1158"/><text class="i" x="1123.5" y="1153">Jihočeská liga</text><text class="c i" x="1123.5" y="1171">5JS1-A</text><text class="i" x="1123.5" y="1188">10 družstev</text></g>
<g id="n-3XS1-A"><rect class="F" x="753.5" y="1209.5" width="79" height="49"/><line class="sf" x1="753.5" x2="832.5" y1="1225" y2="1225"/><text class="i" x="793" y="1220">Liga st. žáků - 3</text><text class="c i" x="793" y="1238">3XS1-A</text><text class="i" x="793" y="1255">65 družstev</text></g>
<g id="n-5VS1-A"><rect class="F" x="1083.5" y="1209.5" width="80" height="49"/><line class="sf" x1="1083.5" x2="1163.5" y1="1225" y2="1225"/><text class="i" x="1123.5" y="1220">Liga Vysočiny - A</text><text class="c i" x="1123.5" y="1238">5VS1-A</text><text class="i" x="1123.5" y="1255">7 družstev</text></g>
<g id="n-6ZS1-A"><rect class="F" x="836.5" y="1227.5" width="79" height="49"/><line class="sf" x1="836.5" x2="915.5" y1="1243" y2="1243"/><text class="i" x="876" y="1238">Zlínská liga</text><text class="c i" x="876" y="1256">6ZS1-A</text><text class="i" x="876" y="1273">12 družstev</text></g>
<g id="n-7OS1-A"><rect class="F" x="919.5" y="1227.5" width="78" height="49"/><line class="sf" x1="919.5" x2="997.5" y1="1243" y2="1243"/><text class="i" x="958.5" y="1238">Olomoucká liga</text><text class="c i" x="958.5" y="1256">7OS1-A</text><text class="i" x="958.5" y="1273">10 družstev</text></g>
<g id="n-7MS1-B"><rect class="F" x="1001.5" y="1227.5" width="78" height="49"/><line class="sf" x1="1001.5" x2="1079.5" y1="1243" y2="1243"/><text class="i" x="1040.5" y="1238" textLength="72" lengthAdjust="spacingAndGlyphs">Moravskoslezská liga</text><text class="c i" x="1040.5" y="1256">7MS1-B</text><text class="i" x="1040.5" y="1273">11 družstev</text></g>
<g id="n-5VS1-B"><rect class="F" x="1083.5" y="1277.5" width="80" height="49"/><line class="sf" x1="1083.5" x2="1163.5" y1="1293" y2="1293"/><text class="i" x="1123.5" y="1288">Liga Vysočiny - B</text><text class="c i" x="1123.5" y="1306">5VS1-B</text><text class="i" x="1123.5" y="1323">8 družstev</text></g>
<g id="n-7OS2-A"><rect class="F" x="836.5" y="1293.5" width="79" height="49"/><line class="sf" x1="836.5" x2="915.5" y1="1309" y2="1309"/><text class="i" x="876" y="1304">OL přebor</text><text class="c i" x="876" y="1322">7OS2-A</text><text class="i" x="876" y="1339">5 družstev</text></g>
<g id="n-7MS2-A"><rect class="F" x="919.5" y="1293.5" width="78" height="49"/><line class="sf" x1="919.5" x2="997.5" y1="1309" y2="1309"/><text class="i" x="958.5" y="1304">MS přebor - A</text><text class="c i" x="958.5" y="1322">7MS2-A</text><text class="i" x="958.5" y="1339">8 družstev</text></g>
<g id="n-7MS2-B"><rect class="F" x="1001.5" y="1293.5" width="78" height="49"/><line class="sf" x1="1001.5" x2="1079.5" y1="1309" y2="1309"/><text class="i" x="1040.5" y="1304">MS přebor - B</text><text class="c i" x="1040.5" y="1322">7MS2-B</text><text class="i" x="1040.5" y="1339">7 družstev</text></g>

<g id="connectors">
<line class="k" x1="541" y1="104" x2="541" y2="119"/>
<line class="k" x1="503" y1="128" x2="338" y2="157"/>
<line class="k" x1="583" y1="125" x2="752" y2="157"/>
<line class="k" x1="258" y1="170" x2="173" y2="190"/>
<line class="k" x1="338" y1="168" x2="448" y2="189"/>
<line class="k" x1="752" y1="168" x2="658" y2="189"/>
<line class="k" x1="833" y1="170" x2="915" y2="189"/>
<line class="k" x1="92" y1="190" x2="68" y2="207"/>
<line class="k" x1="173" y1="190" x2="200" y2="207"/>
<line class="k" x1="424" y1="190" x2="400" y2="207"/>
<line class="k" x1="589" y1="190" x2="568" y2="207"/>
<line class="k" x1="668" y1="190" x2="695" y2="207"/>
<line class="k" x1="920" y1="190" x2="895" y2="207"/>
<line class="k" x1="998" y1="190" x2="1030" y2="207"/>
<line class="k" x1="48" y1="258" x2="48" y2="272"/>
<line class="k" x1="175" y1="250" x2="125" y2="272"/>
<line class="k" x1="214" y1="258" x2="214" y2="272"/>
<line class="k" x1="380" y1="258" x2="380" y2="272"/>
<line class="k" x1="415" y1="255" x2="450" y2="272"/>
<line class="k" x1="545" y1="258" x2="545" y2="272"/>
<line class="k" x1="582" y1="254" x2="628" y2="272"/>
<line class="k" x1="711" y1="258" x2="711" y2="272"/>
<line class="k" x1="749" y1="254" x2="795" y2="272"/>
<line class="k" x1="876" y1="258" x2="876" y2="272"/>
<line class="k" x1="914" y1="254" x2="958" y2="272"/>
<line class="k" x1="1040" y1="258" x2="1040" y2="272"/>
<line class="k" x1="1078" y1="254" x2="1122" y2="272"/>
<line class="k" x1="355" y1="327" x2="222" y2="340"/>
<line class="k" x1="375" y1="327" x2="293" y2="340"/>
<line class="k" x1="430" y1="327" x2="375" y2="340"/>
<line class="k" x1="490" y1="327" x2="455" y2="340"/>
<line class="k" x1="622" y1="327" x2="622" y2="340"/>
<line class="k" x1="700" y1="327" x2="700" y2="340"/>
<line class="k" x1="852" y1="327" x2="795" y2="340"/>
<line class="k" x1="882" y1="327" x2="882" y2="340"/>
<line class="k" x1="1010" y1="327" x2="970" y2="340"/>
<line class="k" x1="1055" y1="327" x2="1042" y2="340"/>
<line class="k" x1="1122" y1="327" x2="1122" y2="340"/>
<line class="k" x1="213" y1="395" x2="213" y2="408"/>
<line class="k" x1="250" y1="395" x2="278" y2="408"/>
<line class="k" x1="262" y1="395" x2="357" y2="408"/>
<line class="k" x1="320" y1="395" x2="437" y2="408"/>
<line class="k" x1="350" y1="395" x2="520" y2="408"/>
<line class="k" x1="790" y1="395" x2="790" y2="408"/>
<line class="k" x1="840" y1="395" x2="812" y2="408"/>
<line class="k" x1="958" y1="395" x2="958" y2="408"/>
<line class="k" x1="213" y1="463" x2="213" y2="476"/>
<line class="k" x1="298" y1="463" x2="298" y2="476"/>
<line class="k" x1="962" y1="463" x2="962" y2="476"/>
<line class="k" x1="257" y1="573" x2="88" y2="600"/>
<line class="k" x1="262" y1="580" x2="234" y2="597"/>
<line class="k" x1="338" y1="578" x2="362" y2="597"/>
<line class="k" x1="338" y1="568" x2="503" y2="600"/>
<line class="k" x1="175" y1="600" x2="145" y2="664"/>
<line class="k" x1="48" y1="648" x2="48" y2="664"/>
<line class="k" x1="358" y1="628" x2="305" y2="664"/>
<line class="k" x1="380" y1="648" x2="380" y2="664"/>
<line class="k" x1="523" y1="628" x2="465" y2="664"/>
<line class="k" x1="545" y1="648" x2="545" y2="664"/>
<line class="k" x1="585" y1="628" x2="617" y2="664"/>
<line class="k" x1="115" y1="719" x2="172" y2="738"/>
<line class="k" x1="790" y1="647" x2="790" y2="632"/>
<line class="k" x1="880" y1="632" x2="917" y2="590"/>
<line class="k" x1="958" y1="632" x2="958" y2="614"/>
<line class="k" x1="1040" y1="632" x2="998" y2="598"/>
<line class="k" x1="1112" y1="632" x2="998" y2="572"/>
<line class="k" x1="45" y1="851" x2="170" y2="786"/>
<line class="k" x1="213" y1="851" x2="213" y2="836"/>
<line class="k" x1="355" y1="851" x2="256" y2="832"/>
<line class="k" x1="540" y1="851" x2="256" y2="786"/>
<line class="k" x1="48" y1="903" x2="48" y2="918"/>
<line class="k" x1="85" y1="903" x2="130" y2="918"/>
<line class="k" x1="213" y1="903" x2="213" y2="918"/>
<line class="k" x1="345" y1="903" x2="308" y2="918"/>
<line class="k" x1="396" y1="903" x2="396" y2="918"/>
<line class="k" x1="420" y1="905" x2="460" y2="918"/>
<line class="k" x1="420" y1="908" x2="548" y2="918"/>
<line class="k" x1="585" y1="911" x2="598" y2="918"/>
<line class="k" x1="585" y1="908" x2="680" y2="918"/>
<line class="k" x1="585" y1="906" x2="770" y2="918"/>
<line class="k" x1="585" y1="904" x2="860" y2="918"/>
<line class="k" x1="205" y1="972" x2="130" y2="986"/>
<line class="k" x1="213" y1="972" x2="213" y2="986"/>
<line class="k" x1="222" y1="972" x2="295" y2="986"/>
<line class="k" x1="230" y1="972" x2="365" y2="986"/>
<line class="k" x1="800" y1="972" x2="866" y2="986"/>
<line class="k" x1="880" y1="972" x2="880" y2="986"/>
<line class="k" x1="886" y1="851" x2="920" y2="836"/>
<line class="k" x1="958" y1="851" x2="958" y2="836"/>
<line class="k" x1="1038" y1="868" x2="1038" y2="836"/>
<line class="k" x1="1110" y1="918" x2="1055" y2="836"/>
<line class="k" x1="1115" y1="851" x2="1082" y2="836"/>
<line class="k" x1="958" y1="918" x2="958" y2="903"/>
<line class="k" x1="200" y1="1122" x2="160" y2="1140"/>
<line class="k" x1="215" y1="1122" x2="260" y2="1140"/>
<line class="k" x1="118" y1="1194" x2="45" y2="1223"/>
<line class="k" x1="138" y1="1194" x2="138" y2="1223"/>
<line class="k" x1="152" y1="1194" x2="198" y2="1223"/>
<line class="k" x1="172" y1="1203" x2="278" y2="1223"/>
<line class="k" x1="283" y1="1194" x2="216" y2="1223"/>
<line class="k" x1="288" y1="1194" x2="288" y2="1223"/>
<line class="k" x1="335" y1="1200" x2="385" y2="1223"/>
<line class="k" x1="339" y1="1207" x2="433" y2="1223"/>
<line class="k" x1="130" y1="1276" x2="130" y2="1291"/>
<line class="k" x1="460" y1="1276" x2="460" y2="1291"/>
<line class="kt" x1="586" y1="1185" x2="557" y2="1123"/>
<line class="kt" x1="586" y1="1255" x2="543" y2="1123"/>
<line class="kt" x1="586" y1="1322" x2="530" y2="1123"/>
<line class="k" x1="752" y1="1075" x2="705" y2="1085"/>
<line class="k" x1="833" y1="1076" x2="917" y2="1076"/>
<line class="k" x1="908" y1="1160" x2="948" y2="1125"/>
<line class="kt" x1="965" y1="1226" x2="965" y2="1124"/>
<line class="kt" x1="1026" y1="1226" x2="1026" y2="1124"/>
<line class="k" x1="1082" y1="1190" x2="1050" y2="1124"/>
<line class="k" x1="1100" y1="1208" x2="1040" y2="1124"/>
<line class="k" x1="880" y1="1293" x2="935" y2="1278"/>
<line class="k" x1="965" y1="1293" x2="1015" y2="1278"/>
<line class="k" x1="1030" y1="1293" x2="1030" y2="1278"/>
</g>
</svg>
